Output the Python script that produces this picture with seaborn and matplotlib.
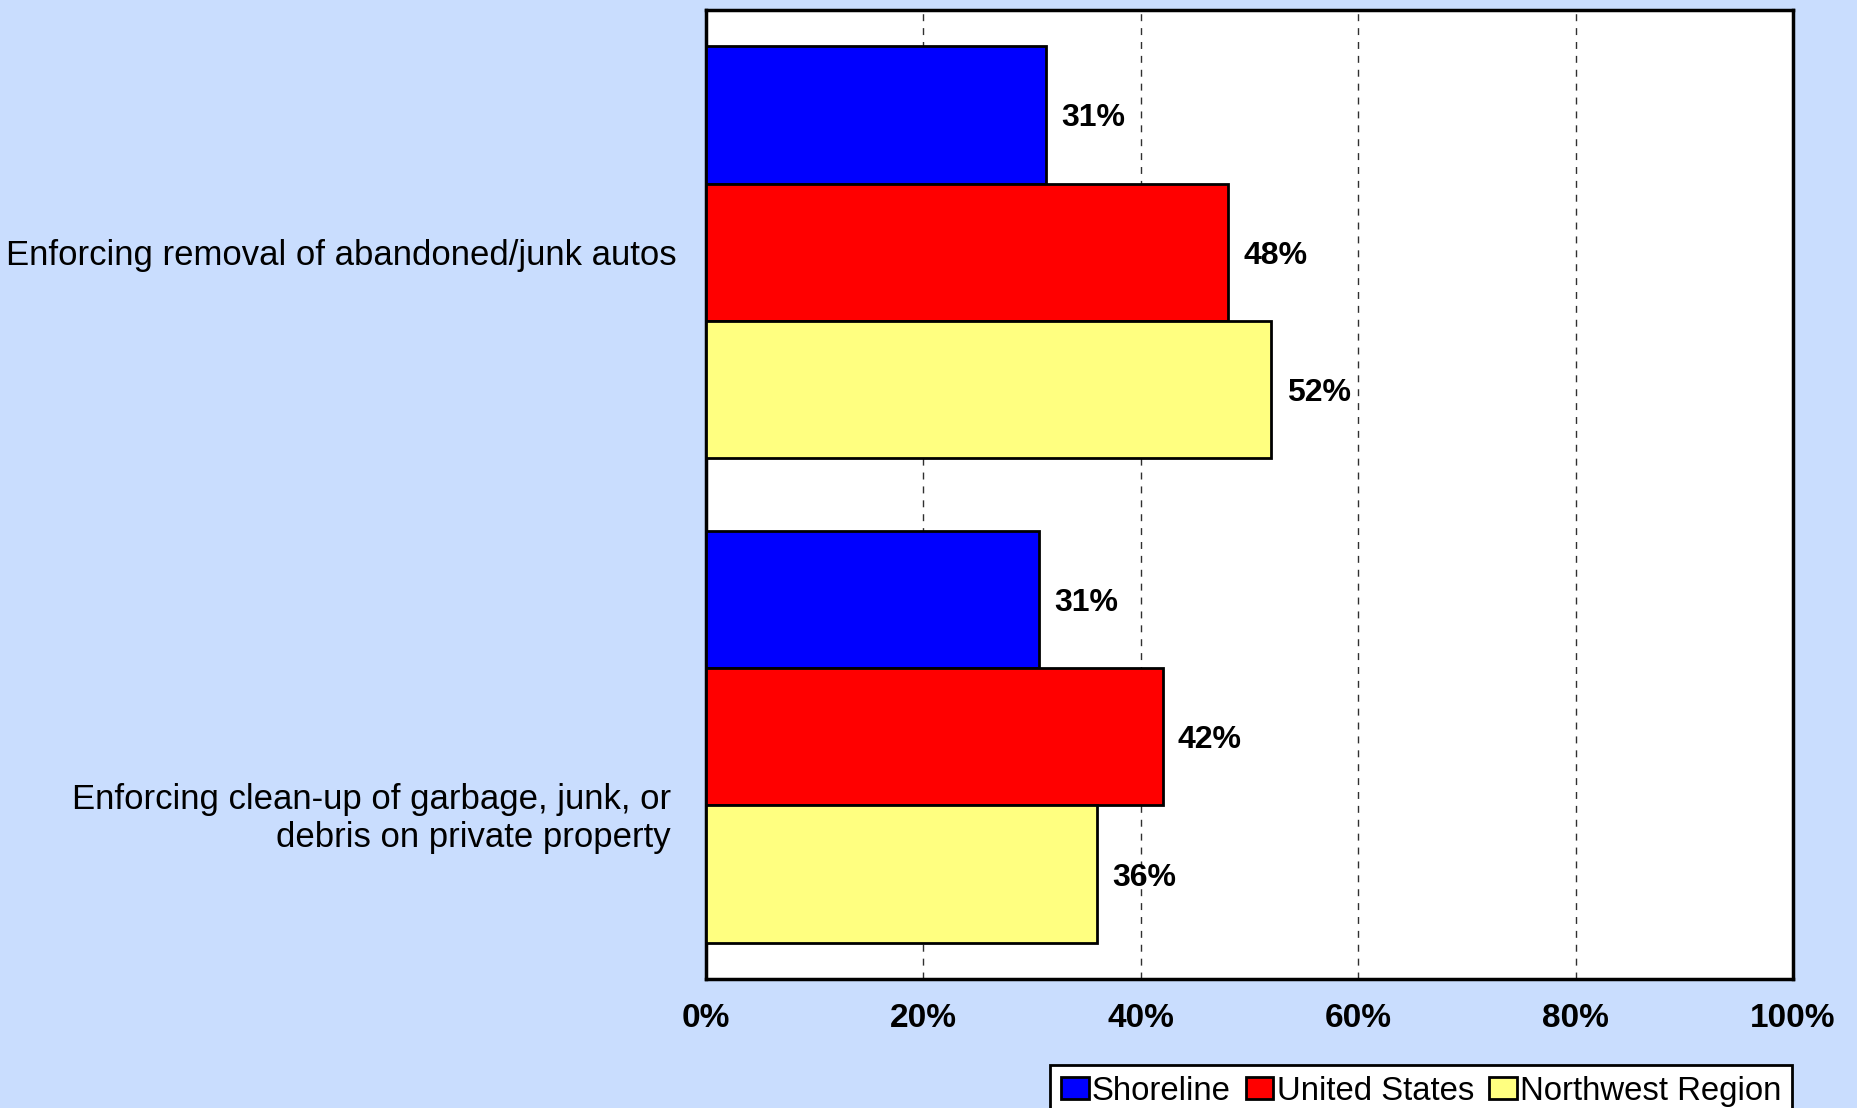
import matplotlib
matplotlib.use("Agg")
import matplotlib.pyplot as plt
import matplotlib.transforms as mtransforms
from matplotlib import font_manager as fm
import seaborn as sns
import pandas as pd

categories = ["Enforcing removal of abandoned/junk autos",
              "Enforcing clean-up of garbage, junk, or\ndebris on private property"]
series = ["Shoreline", "United States", "Northwest Region"]
shoreline = [31.3, 30.6]
united_states = [48, 42]
northwest = [52, 36]
labels = [["31%", "31%"], ["48%", "42%"], ["52%", "36%"]]
xticks = [0, 20, 40, 60, 80, 100]
xticklabels = ["0%", "20%", "40%", "60%", "80%", "100%"]

rows = []
for s, vals in zip(series, [shoreline, united_states, northwest]):
    for c, v in zip(categories, vals):
        rows.append({"cat": c, "series": s, "val": v})
df = pd.DataFrame(rows)

sns.set_style("white")
plt.rcParams['font.family'] = ['Liberation Sans', 'DejaVu Sans']
plt.rcParams['text.color'] = 'black'
plt.rcParams['xtick.color'] = 'black'
plt.rcParams['ytick.color'] = 'black'

bg = "#C9DDFE"
fig = plt.figure(figsize=(18.58, 11.08), dpi=100, facecolor=bg)
ax = fig.add_axes([0.380, 0.1164, 0.585, 0.8746])
ax.set_facecolor("white")

palette = {"Shoreline": "#0000FF", "United States": "#FF0000", "Northwest Region": "#FFFF80"}
sns.barplot(data=df, y="cat", x="val", hue="series", orient="h", width=0.85,
            palette=palette, edgecolor="black", linewidth=2, saturation=1,
            hue_order=series, order=categories, ax=ax, legend=True, zorder=3)

for cont, lab in zip(ax.containers, labels):
    anns = ax.bar_label(cont, labels=lab, padding=11, fontsize=23, fontweight="bold", color="black")
    for a in anns:
        a.xyann = (11, -2.5)

ax.set_xlim(0, 100)
ax.set_ylim(1.5, -0.5)
ax.set_xticks(xticks)
ax.set_xticklabels(xticklabels, fontsize=24, fontweight="bold", color="black")
ax.tick_params(axis="x", length=0, pad=17, labelcolor="black")
ax.tick_params(axis="y", length=0, pad=21, labelsize=25, labelcolor="black")
ax.set_xlabel("")
ax.set_ylabel("")
ax.grid(False)
for x in xticks[1:-1]:
    ax.axvline(x, color="#303030", linestyle=(0, (5, 5)), linewidth=1, zorder=1)
for sp in ax.spines.values():
    sp.set_visible(True)
    sp.set_color("black")
    sp.set_linewidth(2.5)

ylabs = ax.get_yticklabels()
for t in ylabs:
    t.set_ha("right")
    t.set_color("black")
off = mtransforms.ScaledTranslation(-6 / 100, -76 / 100, fig.dpi_scale_trans)
ylabs[1].set_transform(ylabs[1].get_transform() + off)

# legend font: narrow family if truly installed
narrow_path = fm.findfont(fm.FontProperties(family="Liberation Sans Narrow"))
leg_family = "Liberation Sans Narrow" if "Narrow" in narrow_path else "Liberation Sans"

handles, lbls = ax.get_legend_handles_labels()
ax.legend_.remove()

target_w = 1792 - 1051
size = 24.0


def make_legend(sz):
    lg = fig.legend(handles, lbls, loc="upper right",
                    bbox_to_anchor=(1792 / 1858, 1 - 1065 / 1108),
                    ncol=3, frameon=True, fancybox=False, edgecolor="black", framealpha=1,
                    prop={"family": leg_family, "size": sz},
                    handlelength=0.85, handleheight=0.65, handletextpad=0.1,
                    columnspacing=0.45, borderpad=0.32, borderaxespad=0)
    lg.get_frame().set_linewidth(2)
    return lg


leg = make_legend(size)
for _ in range(4):
    fig.canvas.draw()
    w = leg.get_window_extent().width
    size = size * target_w / w
    leg.remove()
    leg = make_legend(size)

fig.savefig("out.png", dpi=100, facecolor=bg)
